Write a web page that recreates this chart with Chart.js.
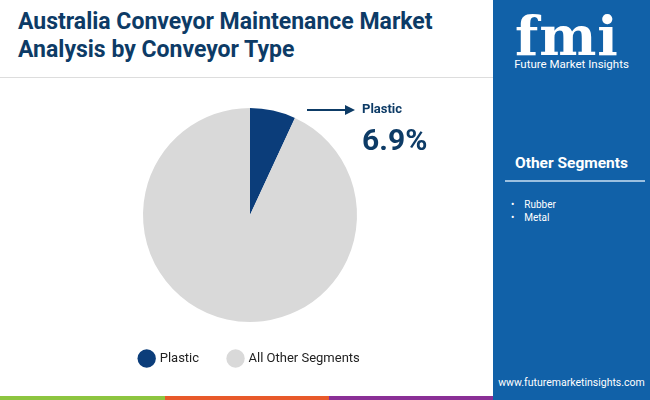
<!DOCTYPE html>
<html><head><meta charset="utf-8">
<script src="https://cdn.jsdelivr.net/npm/chart.js@4"></script>
<style>
body{margin:0;width:650px;height:400px;position:relative;overflow:hidden;background:#fff;font-family:Roboto,"Open Sans",sans-serif}
#title{position:absolute;left:18px;top:8px;font-size:23px;font-weight:700;color:#0d3b66;line-height:28px}
#rule{position:absolute;left:0;top:77px;width:493px;height:1px;background:#ddd}
#panel{position:absolute;left:493px;top:0;width:157px;height:400px;background:#1161a8;color:#fff}
#wrap{position:absolute;left:100px;top:100px;width:300px;height:283px}
.strip{position:absolute;top:396px;height:4px}
</style></head><body>
<div id="title">Australia Conveyor Maintenance Market<br>Analysis by Conveyor Type</div>
<div id="rule"></div>
<div id="wrap"><canvas id="c"></canvas></div>
<svg style="position:absolute;left:305px;top:100px" width="50" height="20"><line x1="2" y1="10" x2="42" y2="10" stroke="#0d3b66" stroke-width="2"/><polygon points="40,5 50,10 40,15" fill="#0d3b66"/></svg>
<div style="position:absolute;left:362px;top:101px;font-size:13px;font-weight:700;color:#0d3b66">Plastic</div>
<div style="position:absolute;left:362px;top:122px;font-size:30px;font-weight:700;color:#0d3b66">6.9%</div>
<div id="panel">
  <div style="position:absolute;left:22px;top:4px;font-size:54px;font-weight:900;font-family:'DejaVu Serif',serif;letter-spacing:1px">fmi</div>
  <div style="position:absolute;left:0;width:157px;top:57px;text-align:center;font-size:11.5px">Future Market Insights</div>
  <div style="position:absolute;left:0;width:157px;top:154px;text-align:center;font-size:15.5px;font-weight:700">Other Segments</div>
  <div style="position:absolute;left:12px;top:180px;width:140px;height:2px;background:#9cc0e0"></div>
  <div style="position:absolute;left:18px;top:198px;font-size:10px;line-height:13px">•&nbsp;&nbsp;&nbsp;&nbsp;Rubber<br>•&nbsp;&nbsp;&nbsp;&nbsp;Metal</div>
  <div style="position:absolute;left:0;width:157px;top:376px;text-align:center;font-size:10.5px">www.futuremarketinsights.com</div>
</div>
<div class="strip" style="left:0;width:165px;background:#8dc540"></div>
<div class="strip" style="left:165px;width:164px;background:#e8592a"></div>
<div class="strip" style="left:329px;width:164px;background:#8a2f96"></div>
<script>
const categories = ["Plastic", "All Other Segments"];
const shares = [6.9, 93.1];
const colors = ["#0b3d7a", "#d9d9d9"];

new Chart(document.getElementById("c"), {
  type: "pie",
  data: { labels: categories, datasets: [{ data: shares, backgroundColor: colors, borderWidth: 0 }] },
  options: {
    responsive: true, maintainAspectRatio: false, animation: false,
    layout: { padding: { top: 8, bottom: 8 } },
    plugins: {
      tooltip: { enabled: false },
      legend: {
        position: "bottom",
        labels: { usePointStyle: true, pointStyle: "circle", boxWidth: 18, boxHeight: 18, padding: 30,
          color: "#222", font: { family: "Roboto", size: 13 } }
      }
    }
  }
});
</script>
</body></html>
